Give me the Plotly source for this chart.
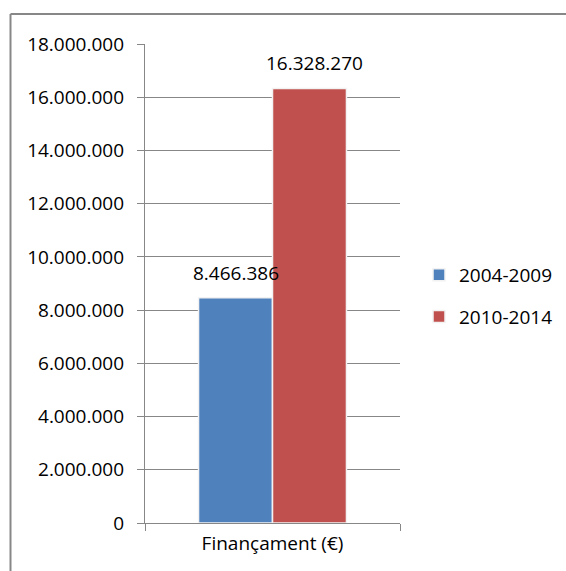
import plotly.graph_objects as go

categories = ["Finançament (€)"]
series_names = ["2004-2009", "2010-2014"]
values_2004_2009 = [8466386]
values_2010_2014 = [16328270]
tick_values = [0, 2000000, 4000000, 6000000, 8000000, 10000000, 12000000, 14000000, 16000000, 18000000]

W, H = 566, 571
L, R, T, B = 145, 166, 44, 48
FONT = "Open Sans"
GRAY = "#878787"
colors = ["#4f81bd", "#c0504d"]

def fmt(v):
    return f"{v:,}".replace(",", ".")

fig = go.Figure()
for i, (name, vals) in enumerate(zip(series_names, [values_2004_2009, values_2010_2014])):
    fig.add_trace(go.Bar(
        x=categories, y=vals, name=name, legendgroup=name,
        marker=dict(color=colors[i], line=dict(color="#f2f2f2", width=1.5)),
    ))

annotations = []
shifts = [-37, 42]
for i, vals in enumerate([values_2004_2009, values_2010_2014]):
    for c, v in zip(categories, vals):
        annotations.append(dict(
            x=c, y=v, xref="x", yref="y", text=fmt(v), showarrow=False,
            xshift=shifts[i], yshift=25,
            font=dict(family=FONT, size=19, color="black"),
        ))

pw = W - L - R
ph = H - T - B
def px_x(p):
    return (p - L) / pw
def px_y(p):
    return (H - B - p) / ph

shapes = [
    dict(type="line", xref="paper", yref="paper", x0=px_x(10.5), x1=px_x(10.5), y0=px_y(14), y1=px_y(H + 5),
         line=dict(color=GRAY, width=2)),
    dict(type="line", xref="paper", yref="paper", x0=px_x(10.5), x1=px_x(W + 5), y0=px_y(14), y1=px_y(14),
         line=dict(color=GRAY, width=2)),
]

fig.update_layout(
    width=W, height=H, autosize=False,
    margin=dict(l=L, r=R, t=T, b=B, autoexpand=False),
    paper_bgcolor="white", plot_bgcolor="white",
    separators=",.",
    barmode="group", bargap=0.42, bargroupgap=0.0,
    font=dict(family=FONT, size=19, color="black"),
    showlegend=True,
    legend=dict(x=px_x(419), y=px_y(296), xanchor="left", yanchor="middle",
                font=dict(family=FONT, size=19, color="black"),
                tracegroupgap=14, bgcolor="rgba(0,0,0,0)"),
    annotations=annotations,
    shapes=shapes,
)
fig.update_yaxes(
    range=[0, 18000000], tickvals=tick_values, tickformat=",",
    showgrid=True, gridcolor=GRAY, gridwidth=1.3,
    showline=True, linecolor=GRAY, linewidth=1.3,
    ticks="outside", ticklen=7, tickcolor=GRAY, tickwidth=1.3,
    ticklabelstandoff=9, zeroline=False,
    tickfont=dict(family=FONT, size=19, color="black"),
)
fig.update_xaxes(
    showline=True, linecolor=GRAY, linewidth=1.3,
    ticks="outside", ticklen=7, tickcolor=GRAY, tickwidth=1.3, tickson="boundaries",
    showgrid=False, ticklabelstandoff=3,
    tickfont=dict(family=FONT, size=19, color="black"),
)

fig.write_html("out.html", config={"displayModeBar": False},
               post_script="document.body.style.margin='0px';document.body.style.overflow='hidden';")
